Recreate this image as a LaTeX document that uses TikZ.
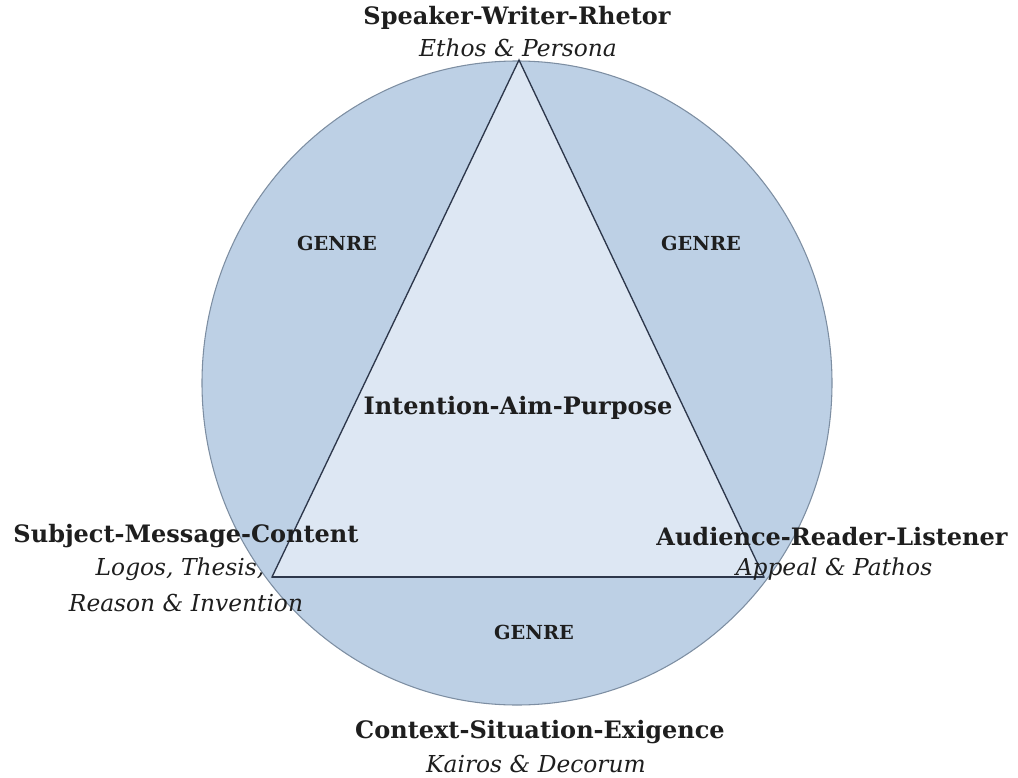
\documentclass[tikz,border=0pt]{standalone}
\usepackage{fontspec}
\setmainfont{DejaVu Serif}
\usepackage{tikz}
\usetikzlibrary{positioning,calc}
\definecolor{ringblue}{RGB}{189,208,229}
\definecolor{ringedge}{RGB}{125,142,162}
\definecolor{trifill}{RGB}{221,231,243}
\definecolor{triedge}{RGB}{45,55,75}
\definecolor{inktext}{RGB}{30,30,30}

\begin{document}
\begin{tikzpicture}[x=0.75pt,y=-0.75pt,
      head/.style={font=\fontsize{18}{20}\selectfont\bfseries, text=inktext, inner sep=0pt},
      sub/.style={font=\fontsize{17.5}{19}\selectfont\itshape, text=inktext, inner sep=0pt},
      genre/.style={font=\fontsize{14.5}{16}\selectfont\bfseries, text=inktext, inner sep=0pt}]
    \useasboundingbox (0,0) rectangle (1018,778);
    % outer circle
    \filldraw[fill=ringblue, draw=ringedge, line width=0.8pt] (517,383) ellipse [x radius=315, y radius=322];
    % triangle corners
    \coordinate (top) at (519,60);
    \coordinate (left) at (272,577);
    \coordinate (right) at (764,577);
    \filldraw[fill=trifill, draw=triedge, line width=1pt] (top) -- (left) -- (right) -- cycle;
    \draw[triedge, line width=1.6pt] (left) -- (right);
    % labels
    \node[head] (speaker) at (517,18) {Speaker-Writer-Rhetor};
    \node[sub] (ethos) at (518,48) {Ethos \& Persona};
    \node[head] (subject) at (186,536) {Subject-Message-Content};
    \node[sub] (logos) at (180,569) {Logos, Thesis,};
    \node[sub] (reason) at (186,603) {Reason \& Invention};
    \node[head] (audience) at (832,537) {Audience-Reader-Listener};
    \node[sub] (appeal) at (834,569) {Appeal \& Pathos};
    \node[head] (context) at (540,732) {Context-Situation-Exigence};
    \node[sub] (kairos) at (536,764) {Kairos \& Decorum};
    \node[head] (intent) at (518,408) {Intention-Aim-Purpose};
    \node[genre] (genreL) at (337,243) {GENRE};
    \node[genre] (genreR) at (701,243) {GENRE};
    \node[genre] (genreB) at (534,632) {GENRE};
\end{tikzpicture}
\end{document}
